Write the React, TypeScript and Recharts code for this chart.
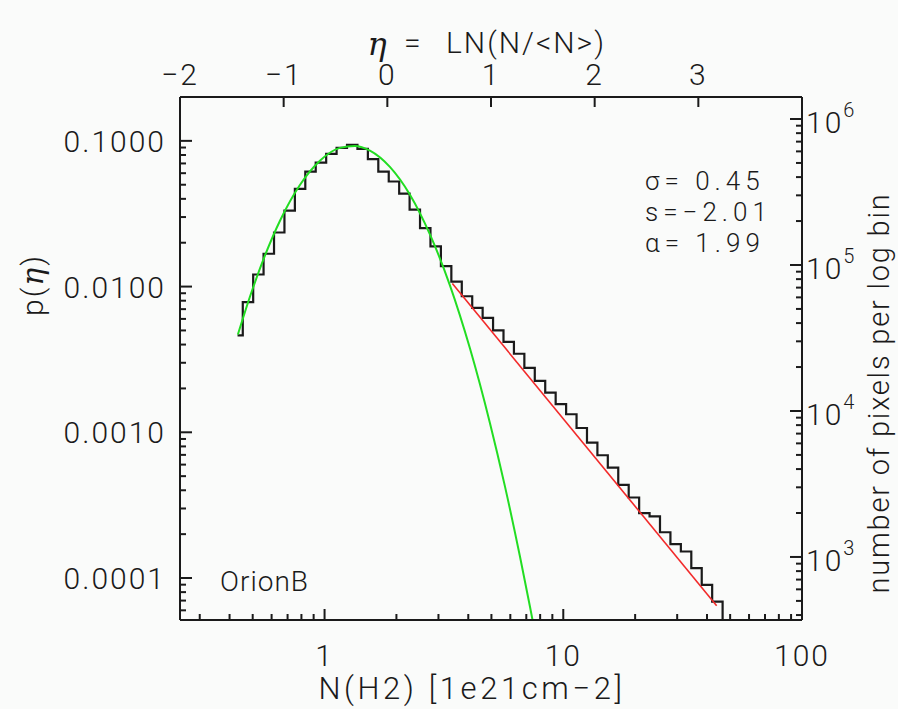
import { ComposedChart, Line, XAxis, YAxis } from 'recharts'

const W = 898
const H = 709
const PLOT = { left: 180, right: 802, top: 97, bottom: 620 }

const INK = '#1a1a1a'
const FONT = 'Roboto, "Liberation Sans", sans-serif'

// histogram bin centres, N(H2) in 1e21 cm-2, and p(eta) per bin
const BIN_N = [
  0.432, 0.478, 0.528, 0.584, 0.646, 0.714, 0.79, 0.873, 0.966, 1.068, 1.181, 1.306,
  1.444, 1.597, 1.766, 1.953, 2.16, 2.388, 2.641, 2.921, 3.23, 3.573, 3.951, 4.369,
  4.831, 5.342, 5.908, 6.533, 7.224, 7.989, 8.835, 9.772, 10.81, 11.95, 13.22, 14.61,
  16.16, 17.87, 19.77, 21.86, 24.17, 26.73, 29.56, 32.69, 36.15, 39.98, 44.21, 48.9,
]
const BIN_P = [
  0.00462, 0.00781, 0.0121, 0.0168, 0.0235, 0.0332, 0.0469, 0.0616, 0.071, 0.0815, 0.0895, 0.0939,
  0.0882, 0.0749, 0.0616, 0.0526, 0.0434, 0.0337, 0.0252, 0.0189, 0.0138, 0.0108, 0.00858, 0.00715,
  0.0061, 0.005, 0.00418, 0.00346, 0.00277, 0.00225, 0.00187, 0.00156, 0.00133, 0.00107, 0.00085, 0.000696,
  0.000573, 0.000436, 0.000357, 0.000279, 0.000265, 0.000206, 0.000171, 0.000152, 0.000117, 0.0000896, 0.0000688, 0.00002,
]

// lognormal fit (green)
const FIT_N = [0.4335, 0.4868, 0.5625, 0.6498, 0.7883, 0.9561, 1.16, 1.34, 1.549, 1.878, 2.279, 2.763, 3.351, 4.064, 4.928, 5.694, 6.582, 7.25, 7.683]
const FIT_P = [0.00469, 0.00851, 0.0163, 0.0282, 0.0498, 0.0731, 0.0895, 0.0923, 0.0858, 0.0663, 0.0427, 0.0228, 0.0102, 0.00377, 0.00116, 0.000427, 0.000141, 0.0000638, 0.0000388]

// power-law tail (red)
const TAIL_N = [3.43, 43.9]
const TAIL_P = [0.01048, 0.0000646]

const N_MEAN = 1.82 // <N>, eta = ln(N/<N>)

const STATS = ['σ= 0.45', 's=−2.01', 'α= 1.99']
const REGION = 'OrionB'

const N_DOMAIN = [0.248, 100]
const ETA_DOMAIN = [-2, 4]
const P_DOMAIN = [0.0000515, 0.2]
const PIX_DOMAIN = [370, 1415000]

const MULT = [1, 2, 3, 4, 5, 6, 7, 8, 9]
const N_DECADES = [0.1, 1, 10, 100]
const P_DECADES = [0.00001, 0.0001, 0.001, 0.01, 0.1]
const PIX_DECADES = [100, 1000, 10000, 100000, 1000000]
const ETA_TICKS = [-2, -1, 0, 1, 2, 3]

const logTicks = (decades: number[], dom: number[]) =>
  decades
    .flatMap((d) => MULT.map((m) => d * m))
    .filter((v) => v >= dom[0] * 1.0001 && v <= dom[1] * 1.0001)

const isDecade = (v: number) => Math.abs(Math.log10(v) - Math.round(Math.log10(v))) < 1e-6

const textStyle = { fontFamily: FONT, fontWeight: 300, fill: INK } as const

function BottomTick({ x, payload }: any) {
  const v = payload.value
  const major = isDecade(v)
  return (
    <g>
      <line x1={x} x2={x} y1={PLOT.bottom} y2={PLOT.bottom - (major ? 11 : 6)} stroke={INK} strokeWidth={2} />
      {major && (
        <text x={x} y={666} textAnchor="middle" fontSize={30} letterSpacing={2} {...textStyle}>
          {Math.round(v)}
        </text>
      )}
    </g>
  )
}

function TopTick({ x, payload }: any) {
  const v = payload.value
  return (
    <g>
      <line x1={x} x2={x} y1={PLOT.top} y2={PLOT.top + 10} stroke={INK} strokeWidth={2} />
      <text x={x} y={85} textAnchor="middle" fontSize={30} letterSpacing={2} {...textStyle}>
        {v < 0 ? `−${-v}` : `${v}`}
      </text>
    </g>
  )
}

function LeftTick({ y, payload }: any) {
  const v = payload.value
  const major = isDecade(v)
  return (
    <g>
      <line x1={PLOT.left} x2={PLOT.left + (major ? 12 : 6)} y1={y} y2={y} stroke={INK} strokeWidth={2} />
      {major && (
        <text x={166} y={y + 11} textAnchor="end" fontSize={30} letterSpacing={2} {...textStyle}>
          {v.toFixed(4)}
        </text>
      )}
    </g>
  )
}

function RightTick({ y, payload }: any) {
  const v = payload.value
  const major = isDecade(v)
  return (
    <g>
      <line x1={PLOT.right} x2={PLOT.right - (major ? 12 : 6)} y1={y} y2={y} stroke={INK} strokeWidth={2} />
      {major && (
        <text x={806} y={y + 14} fontSize={30} letterSpacing={2} {...textStyle}>
          10
          <tspan dy={-16} fontSize={20}>
            {Math.round(Math.log10(v))}
          </tspan>
        </text>
      )}
    </g>
  )
}

export default function App() {
  const bins = BIN_N.map((n, i) => ({ n, p: BIN_P[i], eta: Math.log(n / N_MEAN) }))
  const fit = FIT_N.map((n, i) => ({ n, p: FIT_P[i] }))
  const tail = TAIL_N.map((n, i) => ({ n, p: TAIL_P[i] }))

  return (
    <div style={{ position: 'absolute', left: 0, top: 0, width: W, height: H, background: '#fafbfa' }}>
      <ComposedChart
        width={W}
        height={H}
        margin={{ left: 80, right: 36, top: 47, bottom: 29 }}
      >
        <XAxis
          xAxisId="n"
          dataKey="n"
          type="number"
          scale="log"
          domain={N_DOMAIN}
          allowDataOverflow
          ticks={logTicks(N_DECADES, N_DOMAIN)}
          interval={0}
          tick={<BottomTick />}
          tickLine={false}
          axisLine={{ stroke: INK, strokeWidth: 2 }}
          height={60}
        />
        <XAxis
          xAxisId="eta"
          dataKey="eta"
          orientation="top"
          type="number"
          domain={ETA_DOMAIN}
          allowDataOverflow
          ticks={ETA_TICKS}
          interval={0}
          tick={<TopTick />}
          tickLine={false}
          axisLine={{ stroke: INK, strokeWidth: 2 }}
          height={50}
        />
        <YAxis
          yAxisId="p"
          type="number"
          scale="log"
          domain={P_DOMAIN}
          allowDataOverflow
          ticks={logTicks(P_DECADES, P_DOMAIN)}
          interval={0}
          tick={<LeftTick />}
          tickLine={false}
          axisLine={{ stroke: INK, strokeWidth: 2 }}
          width={100}
        />
        <YAxis
          yAxisId="pix"
          orientation="right"
          type="number"
          scale="log"
          domain={PIX_DOMAIN}
          allowDataOverflow
          ticks={logTicks(PIX_DECADES, PIX_DOMAIN)}
          interval={0}
          tick={<RightTick />}
          tickLine={false}
          axisLine={{ stroke: INK, strokeWidth: 2 }}
          width={60}
        />
        {/* same histogram on the eta axis, invisible, so the top axis is drawn */}
        <Line
          data={bins}
          xAxisId="eta"
          yAxisId="p"
          dataKey="p"
          type="step"
          stroke="transparent"
          dot={false}
          activeDot={false}
          isAnimationActive={false}
        />
        <Line
          data={bins}
          xAxisId="n"
          yAxisId="p"
          dataKey="p"
          type="step"
          stroke={INK}
          strokeWidth={2.2}
          dot={false}
          isAnimationActive={false}
        />
        <Line
          data={fit}
          xAxisId="n"
          yAxisId="p"
          dataKey="p"
          type="monotone"
          stroke="#22dd22"
          strokeWidth={2}
          dot={false}
          isAnimationActive={false}
        />
        <Line
          data={tail}
          xAxisId="n"
          yAxisId="p"
          dataKey="p"
          type="linear"
          stroke="#f22a2a"
          strokeWidth={1.6}
          dot={false}
          isAnimationActive={false}
        />
      </ComposedChart>

      <svg width={W} height={H} style={{ position: 'absolute', left: 0, top: 0, pointerEvents: 'none' }}>
        <text x={377} y={55} textAnchor="middle" fontSize={32} fontFamily='"DejaVu Serif", serif' fontStyle="italic" fill={INK}>
          η
        </text>
        <text x={404} y={53} fontSize={30} {...textStyle}>=</text>
        <text x={446} y={53} fontSize={30} letterSpacing={2} {...textStyle}>
          {'LN(N/<N>)'}
        </text>
        <text x={472} y={699} textAnchor="middle" fontSize={31} letterSpacing={3.6} {...textStyle}>
          N(H2) [1e21cm−2]
        </text>
        <text transform="translate(43,285) rotate(-90)" textAnchor="middle" fontSize={30} letterSpacing={2} {...textStyle}>
          p(<tspan fontFamily='"DejaVu Serif", serif' fontStyle="italic">η</tspan>)
        </text>
        <text transform="translate(889,393) rotate(-90)" textAnchor="middle" fontSize={29} letterSpacing={1.8} {...textStyle}>
          number of pixels per log bin
        </text>
        {STATS.map((s, i) => (
          <text key={s} x={645} y={190 + i * 31} fontSize={26} letterSpacing={5} {...textStyle}>
            {s}
          </text>
        ))}
        <text x={220} y={591} fontSize={28} letterSpacing={1} {...textStyle}>
          {REGION}
        </text>
      </svg>
    </div>
  )
}
